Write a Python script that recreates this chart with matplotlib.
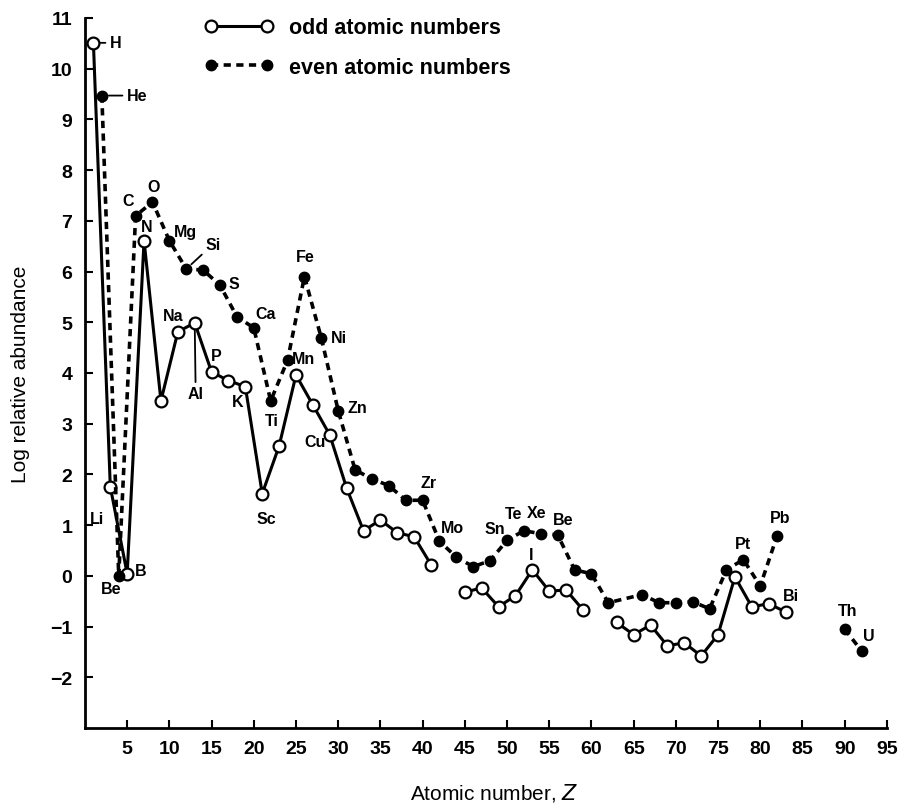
import numpy as np
import matplotlib
matplotlib.use("Agg")
import matplotlib.pyplot as plt

# odd atomic numbers (nan = gap in the curve)
odd_z = [1, 3, 5, 7, 9, 11, 13, 15, 17, 19, 21, 23, 25, 27, 29, 31, 33, 35, 37, 39, 41,
         43, 45, 47, 49, 51, 53, 55, 57, 59, 61,
         63, 65, 67, 69, 71, 73, 75, 77, 79, 81, 83]
odd_val = [10.51, 1.76, 0.04, 6.61, 3.45, 4.81, 4.99, 4.02, 3.85, 3.73, 1.62, 2.56, 3.96,
           3.37, 2.78, 1.73, 0.89, 1.10, 0.85, 0.77, 0.22,
           np.nan, -0.32, -0.24, -0.61, -0.39, 0.12, -0.30, -0.28, -0.67, np.nan,
           -0.92, -1.16, -0.97, -1.38, -1.32, -1.58, -1.16, -0.02, -0.61, -0.55, -0.71]

# even atomic numbers
even_z = [2, 4, 6, 8, 10, 12, 14, 16, 18, 20, 22, 24, 26, 28, 30, 32, 34, 36, 38, 40,
          42, 44, 46, 48, 50, 52, 54, 56, 58, 60, 62, 66, 68, 70, 72, 74, 76, 78, 80, 82,
          86, 90, 92]
even_val = [9.47, 0.00, 7.10, 7.37, 6.61, 6.05, 6.03, 5.73, 5.11, 4.89, 3.45, 4.25, 5.90,
            4.69, 3.26, 2.09, 1.91, 1.78, 1.49, 1.49, 0.68, 0.37, 0.18, 0.30, 0.70, 0.89,
            0.83, 0.81, 0.12, 0.04, -0.53, -0.37, -0.53, -0.53, -0.51, -0.65, 0.12, 0.32,
            -0.20, 0.79, np.nan, -1.05, -1.48]

# element labels: text, series, Z of point, offset in pixels (dx, dy), leader line
labels = [
    ("H", "odd", 1, 22, 0, True),
    ("He", "even", 2, 35, 0, True),
    ("Li", "odd", 3, -13, -32, False),
    ("Be", "even", 4, -8, -13, False),
    ("B", "odd", 5, 14, 3, False),
    ("C", "even", 6, -7, 15, False),
    ("O", "even", 8, 1, 16, False),
    ("N", "odd", 7, 3, 14, False),
    ("Mg", "even", 10, 16, 9, False),
    ("Si", "even", 12, 27, 25, True),
    ("S", "even", 16, 14, 2, False),
    ("Ca", "even", 20, 12, 14, False),
    ("Na", "odd", 11, -5, 16, False),
    ("Al", "odd", 13, 1, -71, True),
    ("P", "odd", 15, 5, 16, False),
    ("K", "odd", 19, -8, -15, False),
    ("Sc", "odd", 21, 4, -25, False),
    ("Ti", "even", 22, 1, -20, False),
    ("Mn", "even", 24, 16, 2, False),
    ("Fe", "even", 26, 1, 20, False),
    ("Ni", "even", 28, 18, 0, False),
    ("Cu", "odd", 29, -15, -7, False),
    ("Zn", "even", 30, 19, 3, False),
    ("Zr", "even", 40, 6, 18, False),
    ("Mo", "even", 42, 13, 14, False),
    ("Sn", "even", 50, -12, 12, False),
    ("Te", "even", 52, -10, 17, False),
    ("Xe", "even", 54, -4, 21, False),
    ("Be", "even", 56, 5, 15, False),
    ("I", "odd", 53, -1, 15, False),
    ("Pt", "even", 78, 0, 16, False),
    ("Pb", "even", 82, 3, 18, False),
    ("Bi", "odd", 83, 5, 16, False),
    ("Th", "even", 90, 3, 19, False),
    ("U", "even", 92, 7, 15, False),
]

plt.rcParams['font.family'] = ['Liberation Sans', 'DejaVu Sans']

fig = plt.figure(figsize=(9.01, 8.04), dpi=100)
ax = fig.add_axes([0.0943, 0.0933, 0.890, 0.8831])

ax.plot(odd_z, odd_val, '-', color='black', lw=2.2, marker='o', ms=8.5,
        mfc='white', mec='black', mew=1.6, label='odd atomic numbers', zorder=3)
ax.plot(even_z, even_val, color='black', lw=2.6, ls=(0, (2.0, 1.5)), marker='o', ms=7.5,
        mfc='black', mec='black', label='even atomic numbers', zorder=3)

series = {"odd": dict(zip(odd_z, odd_val)), "even": dict(zip(even_z, even_val))}
label_font = ['Liberation Sans Narrow', 'Liberation Sans']
for txt, s, z, dx, dy, lead in labels:
    y = series[s][z]
    arrow = None
    if lead:
        arrow = dict(arrowstyle='-', color='black', lw=1.3, shrinkA=1, shrinkB=5)
    ax.annotate(txt, xy=(z, y), xytext=(dx, dy), textcoords='offset pixels',
                ha='center', va='center', fontsize=11.5, fontweight='bold',
                family=label_font, arrowprops=arrow)

ax.set_xlim(0, 95)
ax.set_ylim(-3, 11)
ax.set_xticks(range(5, 96, 5))
ax.set_yticks(range(-2, 12))
ax.tick_params(direction='in', length=6, width=1.5, labelsize=14, pad=9)
for lab in ax.get_xticklabels() + ax.get_yticklabels():
    lab.set_fontweight('bold')
ax.spines['top'].set_visible(False)
ax.spines['right'].set_visible(False)
ax.spines['left'].set_linewidth(2)
ax.spines['bottom'].set_linewidth(2)

ax.set_xlabel('Atomic number, $\\it{Z}$', fontsize=15)
ax.xaxis.set_label_coords(0.51, -0.074)
ax.set_ylabel('Log relative abundance', fontsize=15, family=label_font)
ax.yaxis.set_label_coords(-0.068, 0.5)

leg = ax.legend(loc='upper left', bbox_to_anchor=(0.138, 1.013), frameon=False,
                numpoints=2, handlelength=3.2, handletextpad=0.75, labelspacing=0.85,
                prop=dict(size=15.5, weight='bold'), borderaxespad=0, borderpad=0.4)

fig.savefig('out.png', dpi=100, facecolor='white')
